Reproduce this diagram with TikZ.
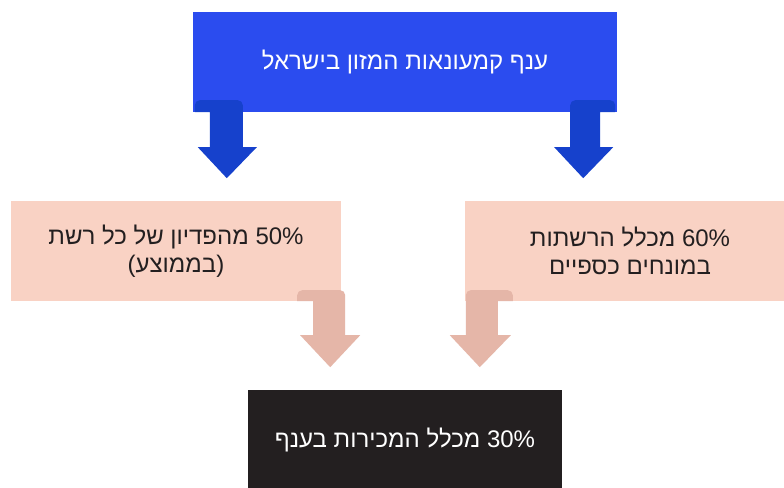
\documentclass[tikz,border=0pt]{standalone}
\usepackage{fontspec}
\TeXXeTstate=1
\newfontfamily\hebfont[Script=Hebrew]{Liberation Sans}
\definecolor{boxblue}{RGB}{43,76,239}
\definecolor{arrowblue}{RGB}{22,65,204}
\definecolor{boxpeach}{RGB}{249,210,196}
\definecolor{arrowpeach}{RGB}{229,182,168}
\definecolor{boxdark}{RGB}{35,31,32}
\begin{document}
\begin{tikzpicture}[x=1pt,y=-1pt,
  box/.style={rectangle, inner sep=0pt, align=center,
    font=\hebfont\fontsize{24}{28}\selectfont},
  bluebox/.style={box, fill=boxblue, text=white, minimum width=424pt, minimum height=100pt},
  peachbox/.style={box, fill=boxpeach, text=boxdark, minimum width=330pt, minimum height=100pt},
  darkbox/.style={box, fill=boxdark, text=white, minimum width=314pt, minimum height=100pt},
  bluearrow/.style={fill=arrowblue},
  peacharrow/.style={fill=arrowpeach}]
\clip (0,0) rectangle (784,487);
\fill[white] (0,0) rectangle (784,487);

\node[bluebox] (top) at (405,62) {\beginR ענף קמעונאות המזון בישראל\endR};
\node[peachbox] (left) at (176,251) {\beginR\beginL 50\%\endL{} מהפדיון של כל רשת\endR\\ \beginR(בממוצע)\endR};
\node[peachbox] (right) at (630,251) {\beginR\beginL 60\%\endL{} מכלל הרשתות\endR\\ \beginR במונחים כספיים\endR};
\node[darkbox] (bottom) at (405,440) {\beginR\beginL 30\%\endL{} מכלל המכירות בענף\endR};

% blue block arrows
\fill[bluearrow, shift={(top.south west)}]
  (2,0) [rounded corners=5pt]-- (2,-12) -- (50,-12) [sharp corners]-- (50,35) -- (64,35)
  -- (34,66) -- (5,35) -- (17,35) -- (17,0) -- cycle;
\fill[bluearrow, shift={(top.south east)}]
  (-47,35) [rounded corners=5pt]-- (-47,-12) -- (-2,-12) [sharp corners]-- (-2,0) -- (-17,0)
  -- (-17,35) -- (-4,35) -- (-34,66) -- (-63,35) -- cycle;

% peach block arrows
\fill[peacharrow, shift={(left.south east)}]
  (-44,0) [rounded corners=5pt]-- (-44,-11) -- (4,-11) [sharp corners]-- (4,34) -- (19,34)
  -- (-11,66) -- (-41,34) -- (-28,34) -- (-28,0) -- cycle;
\fill[peacharrow, shift={(right.south west)}]
  (1,34) [rounded corners=5pt]-- (1,-11) -- (48,-11) [sharp corners]-- (48,0) -- (33,0)
  -- (33,34) -- (46,34) -- (15,66) -- (-15,34) -- cycle;
\end{tikzpicture}
\end{document}
